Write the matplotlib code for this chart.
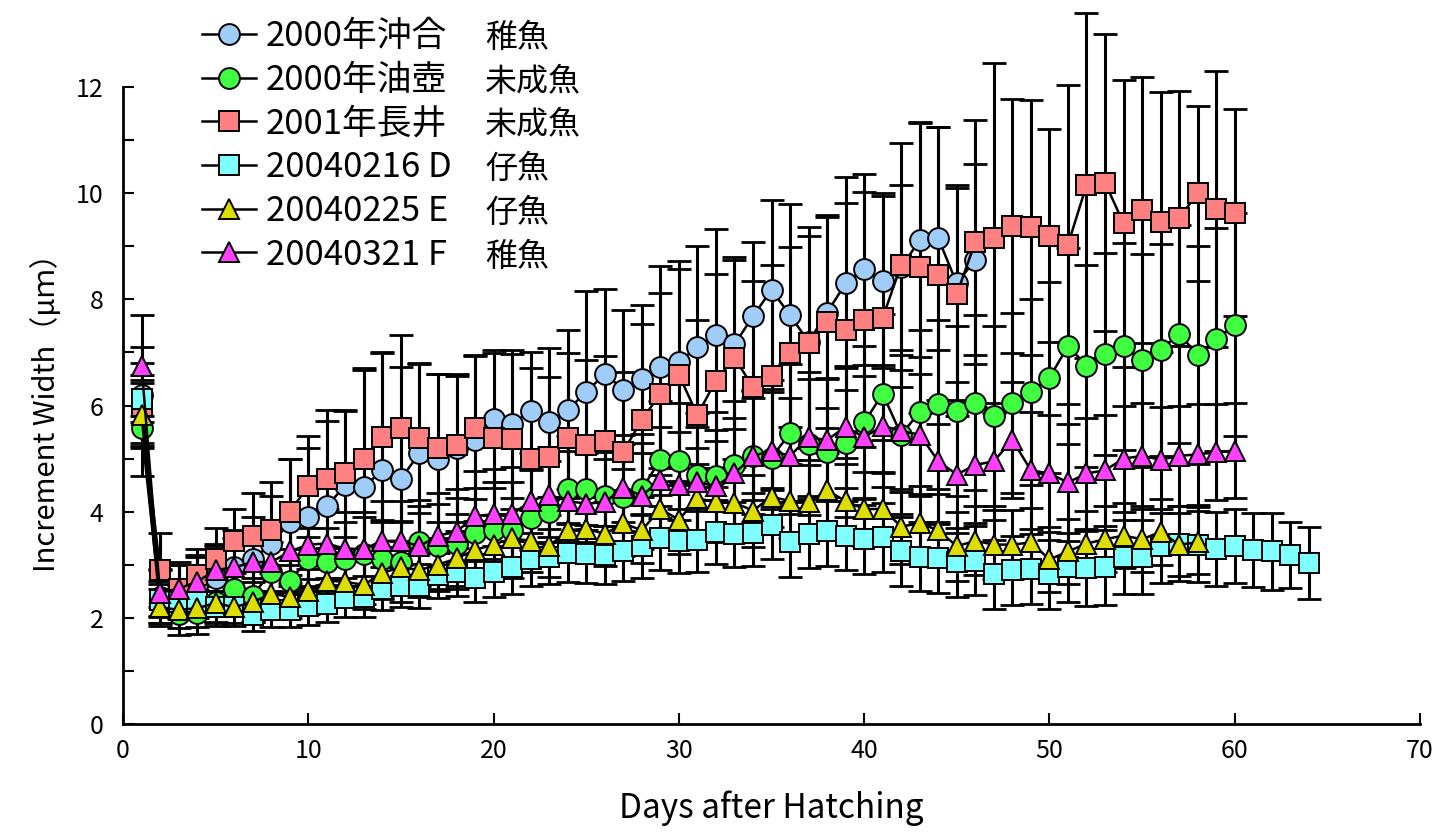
import numpy as np
import matplotlib
matplotlib.use("Agg")
import matplotlib.pyplot as plt
from matplotlib.ticker import MultipleLocator

plt.rcParams['font.family'] = ['Noto Sans CJK JP', 'DejaVu Sans']

# legend labels (two columns: site / stage)
labels = ["2000年沖合", "2000年油壺", "2001年長井", "20040216 D", "20040225 E", "20040321 F"]
stages = ["稚魚", "未成魚", "未成魚", "仔魚", "仔魚", "稚魚"]

# mean increment width (um), day 1 onward
oki_mean = [6.2, 2.4, 2.5, 2.6, 2.75, 2.95, 3.1, 3.4, 3.8, 3.9,
            4.1, 4.5, 4.47, 4.78, 4.62, 5.1, 5.0, 5.2, 5.35, 5.75,
            5.65, 5.9, 5.68, 5.92, 6.25, 6.6, 6.3, 6.5, 6.72, 6.82,
            7.1, 7.33, 7.15, 7.68, 8.18, 7.7, 7.2, 7.75, 8.3, 8.57,
            8.35, 8.6, 9.12, 9.15, 8.3, 8.75]
oki_sd = [0.9, 0.5, 0.5, 0.55, 0.6, 0.7, 0.8, 0.9, 1.2, 1.3,
          1.6, 1.4, 2.2, 2.2, 2.1, 1.7, 1.6, 1.4, 1.6, 1.3,
          1.4, 1.1, 1.4, 1.5, 1.9, 1.6, 1.5, 1.4, 1.9, 1.9,
          1.9, 2.0, 1.6, 1.4, 1.7, 2.1, 2.0, 1.8, 2.0, 1.8,
          1.65, 1.55, 2.2, 2.1, 1.85, 1.8]

abu_mean = [5.58, 2.3, 2.08, 2.1, 2.3, 2.55, 2.42, 2.87, 2.7, 3.1,
            3.05, 3.1, 3.2, 3.1, 3.05, 3.42, 3.35, 3.4, 3.6, 3.65,
            3.65, 3.88, 4.0, 4.42, 4.42, 4.3, 4.28, 4.42, 4.98, 4.95,
            4.7, 4.68, 4.88, 5.05, 5.02, 5.48, 5.28, 5.12, 5.3, 5.68,
            6.22, 5.45, 5.88, 6.02, 5.9, 6.05, 5.8, 6.05, 6.25, 6.52,
            7.12, 6.75, 6.97, 7.12, 6.85, 7.05, 7.35, 6.95, 7.25, 7.52]
abu_sd = [0.9, 0.4, 0.4, 0.4, 0.45, 0.45, 0.5, 0.55, 0.6, 0.6,
          0.65, 0.7, 0.7, 0.75, 0.75, 0.8, 0.8, 0.85, 0.85, 0.9,
          0.9, 0.9, 0.95, 1.0, 1.0, 1.0, 1.0, 1.05, 1.1, 1.1,
          1.15, 1.2, 1.2, 1.25, 1.3, 1.3, 1.35, 1.4, 1.4, 1.45,
          1.5, 1.5, 1.55, 1.6, 1.6, 1.65, 1.7, 1.7, 1.75, 1.8,
          1.85, 1.9, 1.9, 1.95, 2.0, 2.0, 2.05, 2.05, 2.1, 2.1]

nagai_mean = [6.0, 2.9, 2.55, 2.8, 3.1, 3.45, 3.55, 3.65, 4.0, 4.48,
              4.62, 4.72, 5.0, 5.4, 5.58, 5.38, 5.2, 5.25, 5.58, 5.38,
              5.37, 5.0, 5.03, 5.38, 5.25, 5.33, 5.13, 5.73, 6.22, 6.58,
              5.82, 6.47, 6.9, 6.35, 6.55, 6.98, 7.17, 7.58, 7.42, 7.62,
              7.65, 8.65, 8.6, 8.45, 8.1, 9.08, 9.15, 9.38, 9.36, 9.2,
              9.03, 10.15, 10.2, 9.43, 9.68, 9.45, 9.53, 10.0, 9.7, 9.63]
nagai_sd = [0.8, 0.7, 0.5, 0.5, 0.6, 0.6, 0.8, 0.9, 1.0, 0.95,
            1.3, 1.2, 1.7, 1.6, 1.75, 1.4, 1.4, 1.3, 1.35, 1.6,
            1.6, 1.7, 1.5, 1.6, 1.6, 1.6, 1.5, 1.8, 1.9, 2.0,
            1.8, 2.0, 1.9, 2.0, 2.1, 2.0, 2.2, 2.0, 2.4, 2.4,
            2.3, 2.3, 2.75, 2.8, 2.0, 2.3, 3.3, 2.4, 2.4, 2.0,
            3.0, 3.25, 2.8, 2.7, 2.5, 2.45, 2.4, 1.65, 2.6, 1.95]

d_mean = [6.13, 2.33, 2.3, 2.3, 2.2, 2.2, 2.05, 2.15, 2.15, 2.22,
          2.27, 2.38, 2.4, 2.55, 2.6, 2.6, 2.8, 2.87, 2.75, 2.87,
          2.95, 3.1, 3.15, 3.22, 3.2, 3.18, 3.25, 3.35, 3.5, 3.45,
          3.47, 3.62, 3.57, 3.6, 3.75, 3.42, 3.58, 3.63, 3.55, 3.48,
          3.52, 3.25, 3.15, 3.12, 3.05, 3.08, 2.82, 2.9, 2.92, 2.82,
          2.95, 2.93, 2.95, 3.15, 3.15, 3.35, 3.4, 3.38, 3.3, 3.35,
          3.28, 3.25, 3.18, 3.03]
d_sd = [0.45, 0.3, 0.3, 0.3, 0.3, 0.3, 0.3, 0.32, 0.33, 0.35,
        0.35, 0.37, 0.38, 0.4, 0.4, 0.42, 0.42, 0.45, 0.45, 0.48,
        0.5, 0.5, 0.52, 0.55, 0.55, 0.55, 0.55, 0.6, 0.6, 0.6,
        0.6, 0.6, 0.62, 0.62, 0.65, 0.65, 0.65, 0.65, 0.65, 0.65,
        0.65, 0.65, 0.65, 0.65, 0.65, 0.65, 0.65, 0.65, 0.65, 0.65,
        0.65, 0.7, 0.7, 0.7, 0.7, 0.7, 0.7, 0.7, 0.7, 0.7,
        0.7, 0.72, 0.62, 0.68]

e_mean = [5.83, 2.2, 2.15, 2.18, 2.28, 2.2, 2.3, 2.45, 2.4, 2.5,
          2.7, 2.68, 2.62, 2.85, 2.95, 2.9, 3.0, 3.12, 3.28, 3.38,
          3.5, 3.45, 3.35, 3.65, 3.68, 3.58, 3.78, 3.65, 4.05, 3.85,
          4.25, 4.18, 4.17, 4.02, 4.28, 4.2, 4.18, 4.4, 4.2, 4.05,
          4.05, 3.72, 3.78, 3.65, 3.35, 3.45, 3.38, 3.38, 3.42, 3.1,
          3.25, 3.4, 3.48, 3.55, 3.48, 3.62, 3.38, 3.42]
e_sd = [0.6, 0.35, 0.35, 0.35, 0.35, 0.35, 0.38, 0.4, 0.4, 0.42,
        0.45, 0.45, 0.45, 0.48, 0.5, 0.5, 0.5, 0.52, 0.55, 0.55,
        0.55, 0.58, 0.58, 0.6, 0.6, 0.6, 0.62, 0.62, 0.65, 0.65,
        0.65, 0.65, 0.68, 0.68, 0.7, 0.7, 0.7, 0.7, 0.7, 0.7,
        0.7, 0.7, 0.7, 0.68, 0.65, 0.65, 0.65, 0.65, 0.65, 0.62,
        0.62, 0.62, 0.62, 0.62, 0.62, 0.62, 0.6, 0.6]

f_mean = [6.75, 2.47, 2.55, 2.68, 2.9, 2.95, 3.05, 3.05, 3.25, 3.38,
          3.4, 3.3, 3.3, 3.45, 3.45, 3.35, 3.55, 3.62, 3.92, 3.95,
          3.95, 4.2, 4.32, 4.2, 4.15, 4.18, 4.45, 4.3, 4.6, 4.5,
          4.55, 4.48, 4.72, 5.05, 5.15, 5.05, 5.4, 5.35, 5.6, 5.4,
          5.62, 5.52, 5.45, 4.95, 4.7, 4.88, 4.95, 5.35, 4.78, 4.72,
          4.55, 4.72, 4.78, 5.0, 5.05, 4.98, 5.05, 5.08, 5.12, 5.15]
f_sd = [0.95, 0.45, 0.45, 0.5, 0.5, 0.55, 0.55, 0.6, 0.6, 0.65,
        0.65, 0.7, 0.7, 0.75, 0.75, 0.75, 0.8, 0.8, 0.85, 0.85,
        0.9, 0.9, 0.9, 0.95, 0.95, 0.95, 1.0, 1.0, 1.0, 1.0,
        1.05, 1.05, 1.05, 1.1, 1.1, 1.1, 1.1, 1.15, 1.15, 1.15,
        1.15, 1.15, 1.15, 1.15, 1.1, 1.1, 1.1, 1.1, 1.1, 1.1,
        1.1, 1.05, 1.05, 1.0, 1.0, 1.0, 0.95, 0.95, 0.9, 0.9]

means = [oki_mean, abu_mean, nagai_mean, d_mean, e_mean, f_mean]
sds = [oki_sd, abu_sd, nagai_sd, d_sd, e_sd, f_sd]
markers = ['o', 'o', 's', 's', '^', '^']
colors = ['#a0ccf8', '#40ff40', '#ff8080', '#80ffff', '#dddd00', '#ff40ff']

fig = plt.figure(figsize=(14.41, 8.32), dpi=100)
ax = fig.add_axes([123/1441, 108/832, 1297/1441, 637/832])

for i in range(6):
    x = np.arange(1, len(means[i]) + 1)
    eb = ax.errorbar(x, means[i], yerr=sds[i], fmt='none', ecolor='black',
                     elinewidth=2.2, capsize=8.5, capthick=2, zorder=2)
    for a in list(eb.lines[1]) + list(eb.lines[2]):
        a.set_clip_on(False)
    ax.plot(x, means[i], color='black', lw=1.8, marker=markers[i], ms=15,
            mfc=colors[i], mec='black', mew=1.4, zorder=3 + i,
            label=labels[i], clip_on=False)

ax.set_xlim(0, 70)
ax.set_ylim(0, 12)
ax.xaxis.set_major_locator(MultipleLocator(10))
ax.yaxis.set_major_locator(MultipleLocator(2))
ax.yaxis.set_minor_locator(MultipleLocator(1))
ax.tick_params(direction='in', length=8, width=1.5, labelsize=18)
ax.tick_params(axis='y', which='minor', direction='in', length=8, width=1.5)
ax.tick_params(axis='y', pad=14)
ax.tick_params(axis='x', pad=10)
ax.spines['top'].set_visible(False)
ax.spines['right'].set_visible(False)
ax.spines['left'].set_linewidth(2)
ax.spines['bottom'].set_linewidth(2)

ax.set_xlabel('Days after Hatching', fontsize=24, labelpad=19)
ax.set_ylabel('Increment Width（μｍ）', fontsize=21, labelpad=10)

leg = ax.legend(loc='upper left', bbox_to_anchor=(0.140, 0.977),
                bbox_transform=fig.transFigure, frameon=False, fontsize=25,
                handlelength=1.55, handletextpad=0.3, labelspacing=0.25,
                borderpad=0, borderaxespad=0)

# second legend column (stage), aligned to each legend row
fig.canvas.draw()
for t, st in zip(leg.get_texts(), stages):
    bb = t.get_window_extent()
    fig.text(485/1441, bb.y0 / fig.bbox.height, st, fontsize=23,
             va='bottom', ha='left')

fig.savefig('out.png', dpi=100)
